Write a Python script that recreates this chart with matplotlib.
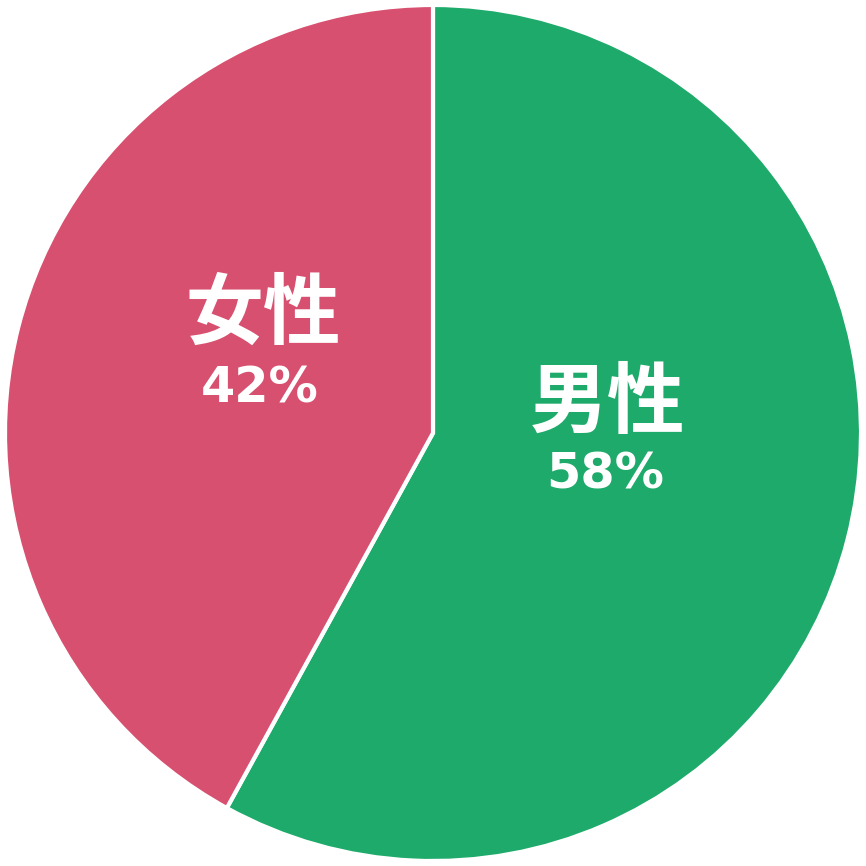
import matplotlib
matplotlib.use("Agg")
from matplotlib import pyplot as plt

labels = ["男性", "女性"]
shares = [58, 42]
colors = ["#1eaa6a", "#d85070"]

# label anchor points (pie radius = 1)
name_pos = [(0.407, 0.068), (-0.397, 0.275)]
pct_pos = [(0.402, -0.096), (-0.404, 0.104)]

def main():
    fig = plt.figure(figsize=(8.66, 8.66), dpi=100)
    ax = fig.add_axes([0, 0, 1, 1])
    ax.pie(shares, colors=colors, startangle=90, counterclock=False,
           wedgeprops={"edgecolor": "white", "linewidth": 3})
    lim = 433 / 428
    ax.set_xlim(-lim, lim)
    ax.set_ylim(-lim, lim)
    ax.set_aspect("equal")
    ax.axis("off")

    for name, share, (nx, ny), (px, py) in zip(labels, shares, name_pos, pct_pos):
        ax.text(nx, ny, name, ha="center", va="center", color="white",
                fontsize=56, fontweight="bold",
                family=["Noto Sans CJK JP", "DejaVu Sans"])
        ax.text(px, py, f"{share}%", ha="center", va="center", color="white",
                fontsize=35.5, fontweight="bold", family=["DejaVu Sans"])

    fig.savefig("out.png", dpi=100, facecolor="white")

if __name__ == "__main__":
    main()
